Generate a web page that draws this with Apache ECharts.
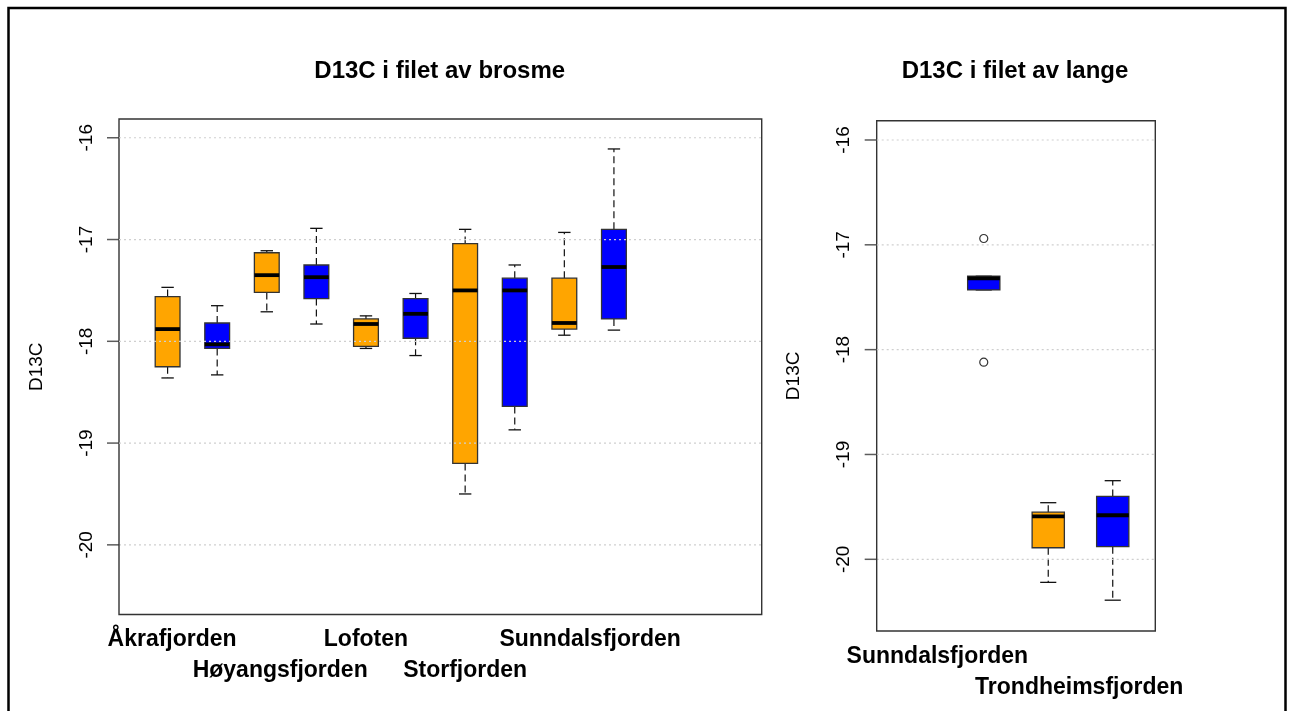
<!DOCTYPE html>
<html>
<head>
<meta charset="utf-8">
<script src="https://cdn.jsdelivr.net/npm/echarts@6.0.0/dist/echarts.min.js"></script>
<style>
  html, body { margin: 0; padding: 0; background: #fff; }
  #main { width: 1289px; height: 711px; }
</style>
</head>
<body>
<div id="main"></div>
<script>
// brosme (left): box slots, orange = first of each pair, blue = second
var brosmeLabels = ['Åkrafjorden', 'Høyangsfjorden', 'Lofoten', 'Storfjorden', 'Sunndalsfjorden'];
var brosmeLabelAt = [1.09, 3.27, 5.0, 7.0, 9.52];
var brosmeOrangeAt = [1, 3, 5, 7, 9];
var brosmeBlueAt = [2, 4, 6, 8, 10];
// [min, Q1, median, Q3, max]
var brosmeOrange = [
  [-18.36, -18.25, -17.88, -17.56, -17.47],
  [-17.71, -17.52, -17.35, -17.13, -17.11],
  [-18.07, -18.05, -17.83, -17.78, -17.75],
  [-19.50, -19.20, -17.50, -17.04, -16.90],
  [-17.94, -17.88, -17.82, -17.38, -16.93]
];
var brosmeBlue = [
  [-18.33, -18.07, -18.03, -17.82, -17.65],
  [-17.83, -17.58, -17.37, -17.25, -16.89],
  [-18.14, -17.97, -17.73, -17.58, -17.53],
  [-18.87, -18.64, -17.50, -17.38, -17.25],
  [-17.89, -17.78, -17.27, -16.90, -16.11]
];

// lange (right)
var langeLabels = ['Sunndalsfjorden', 'Trondheimsfjorden'];
var langeLabelAt = [1.28, 3.48];
var langeOrangeAt = [3];
var langeBlueAt = [2, 4];
var langeOrange = [
  [-20.22, -19.89, -19.59, -19.55, -19.46]
];
var langeBlue = [
  [-17.43, -17.43, -17.32, -17.30, -17.30],
  [-20.39, -19.88, -19.58, -19.40, -19.25]
];
var langeOutliers = [[2, -16.94], [2, -18.12]];

var yTicks = [-20, -19, -18, -17, -16];
// plot frame (R usr limits) of each panel: [xmin, xmax, ymin, ymax]
var brosmeFrame = [0.02, 12.98, -20.684, -15.816];
var langeFrame = [0.34, 4.66, -20.684, -15.816];

function rows(at, stats) {
  return stats.map(function (s, i) { return [at[i]].concat(s); });
}

function nearest(at, v) {
  var best = 0;
  for (var i = 1; i < at.length; i++) {
    if (Math.abs(at[i] - v) < Math.abs(at[best] - v)) best = i;
  }
  return best;
}

function boxItem(color) {
  return function (params, api) {
    var x = api.value(0);
    var lo = api.coord([x, api.value(1)]);
    var q1 = api.coord([x, api.value(2)]);
    var md = api.coord([x, api.value(3)]);
    var q3 = api.coord([x, api.value(4)]);
    var hi = api.coord([x, api.value(5)]);
    var bw = api.size([0.5, 0])[0];
    var cw = bw / 4;
    var cx = md[0];
    var dash = { stroke: '#111', lineWidth: 1.2, lineDash: [7, 4] };
    var solid = { stroke: '#111', lineWidth: 1.3 };
    return {
      type: 'group',
      children: [
        { type: 'line', shape: { x1: cx, y1: q3[1], x2: cx, y2: hi[1] }, style: dash },
        { type: 'line', shape: { x1: cx, y1: q1[1], x2: cx, y2: lo[1] }, style: dash },
        { type: 'line', shape: { x1: cx - cw, y1: hi[1], x2: cx + cw, y2: hi[1] }, style: solid },
        { type: 'line', shape: { x1: cx - cw, y1: lo[1], x2: cx + cw, y2: lo[1] }, style: solid },
        { type: 'rect', shape: { x: cx - bw / 2, y: q3[1], width: bw, height: q1[1] - q3[1] },
          style: { fill: color, stroke: '#333', lineWidth: 1.3 } },
        { type: 'line', shape: { x1: cx - bw / 2, y1: md[1], x2: cx + bw / 2, y2: md[1] },
          style: { stroke: '#000', lineWidth: 3.8 } }
      ]
    };
  };
}

function boxSeries(idx, at, stats, color) {
  return {
    type: 'custom', xAxisIndex: idx * 2, yAxisIndex: idx, z: 2,
    renderItem: boxItem(color),
    encode: { x: 0, y: [1, 2, 3, 4, 5] },
    data: rows(at, stats)
  };
}

// frame and dotted grid lines of one panel
function frameSeries(idx, f) {
  return {
    type: 'custom', xAxisIndex: idx * 2, yAxisIndex: idx, z: 5, silent: true,
    renderItem: function (params, api) {
      var v = api.value(0);
      var a = api.coord([f[0], v]);
      var b = api.coord([f[1], v]);
      var kids = [
        { type: 'line', shape: { x1: a[0], y1: a[1], x2: b[0], y2: b[1] },
          style: { stroke: '#cfcfcf', lineWidth: 1.2, lineDash: [2, 3] } }
      ];
      if (params.dataIndex === 0) {
        var tl = api.coord([f[0], f[3]]);
        var br = api.coord([f[1], f[2]]);
        kids.push({ type: 'rect', shape: { x: tl[0], y: tl[1], width: br[0] - tl[0], height: br[1] - tl[1] },
                    style: { fill: 'none', stroke: '#333', lineWidth: 1.4 } });
      }
      return { type: 'group', children: kids };
    },
    encode: { y: 0 },
    data: yTicks.map(function (v) { return [v]; })
  };
}

// y ticks: thin rect symbols shifted left of the frame edge
function tickSeries(idx, f) {
  return {
    type: 'scatter', xAxisIndex: idx * 2, yAxisIndex: idx, z: 10, silent: true, clip: false,
    symbol: 'rect', symbolSize: [12, 1.5], symbolOffset: [-6, 0],
    itemStyle: { color: '#333', borderWidth: 0 },
    emphasis: { disabled: true },
    data: yTicks.map(function (v) { return [f[0], v]; })
  };
}

// two stacked bottom axes per panel: row 1 = even labels, row 2 = odd labels
function xAxesFor(idx, min, max, labels, at) {
  return [0, 1].map(function (row) {
    var vals = at.filter(function (v, i) { return i % 2 === row; });
    return {
      type: 'value', gridIndex: idx, position: 'bottom', offset: 0, min: min, max: max,
      axisLine: { show: false }, axisTick: { show: false }, splitLine: { show: false },
      axisLabel: {
        customValues: vals, margin: row ? 39 : 8, lineHeight: 31,
        showMinLabel: true, showMaxLabel: true, hideOverlap: false,
        fontFamily: 'Liberation Sans', fontSize: 23, fontWeight: 'bold', color: '#000',
        formatter: function (v) { return labels[nearest(at, v)]; }
      }
    };
  });
}

function yAxisFor(idx, min, max) {
  return {
    type: 'value', gridIndex: idx, min: min, max: max,
    name: 'D13C', nameLocation: 'middle', nameGap: 61,
    nameTextStyle: { fontFamily: 'Liberation Sans', fontSize: 19, color: '#000' },
    axisLine: { show: false },
    axisTick: { show: false },
    splitLine: { show: false },
    axisLabel: {
      customValues: yTicks, rotate: 90, margin: 11,
      showMinLabel: true, showMaxLabel: true,
      fontFamily: 'Liberation Sans', fontSize: 19, color: '#000'
    }
  };
}

// grids reach 12px left of each frame (room for the ticks) and 2px past its other sides
var myChart = echarts.init(document.getElementById('main'));
myChart.setOption({
  animation: false,
  backgroundColor: '#fff',
  grid: [
    { left: 107, top: 117, width: 656.7, height: 499.5, show: false },
    { left: 864.7, top: 118.7, width: 292.6, height: 514.3, show: false }
  ],
  xAxis: xAxesFor(0, -0.222, 13.020, brosmeLabels, brosmeLabelAt)
    .concat(xAxesFor(1, 0.154, 4.691, langeLabels, langeLabelAt)),
  yAxis: [yAxisFor(0, -20.704, -15.796), yAxisFor(1, -20.703, -15.797)],
  graphic: [
    { id: 'outer', type: 'rect', shape: { x: 8.5, y: 8, width: 1277, height: 720 },
      style: { fill: 'none', stroke: '#000', lineWidth: 2.5 } },
    { id: 'title0', type: 'text', x: 439.7, y: 71.7,
      style: { text: 'D13C i filet av brosme', font: 'bold 24px "Liberation Sans"', fill: '#000',
               textAlign: 'center', textVerticalAlign: 'middle' } },
    { id: 'title1', type: 'text', x: 1015, y: 71.7,
      style: { text: 'D13C i filet av lange', font: 'bold 24px "Liberation Sans"', fill: '#000',
               textAlign: 'center', textVerticalAlign: 'middle' } }
  ],
  series: [
    boxSeries(0, brosmeOrangeAt, brosmeOrange, '#FFA500'),
    boxSeries(0, brosmeBlueAt, brosmeBlue, '#0000FF'),
    frameSeries(0, brosmeFrame),
    tickSeries(0, brosmeFrame),
    boxSeries(1, langeOrangeAt, langeOrange, '#FFA500'),
    boxSeries(1, langeBlueAt, langeBlue, '#0000FF'),
    frameSeries(1, langeFrame),
    tickSeries(1, langeFrame),
    {
      type: 'scatter', xAxisIndex: 2, yAxisIndex: 1, z: 6,
      symbol: 'circle', symbolSize: 8,
      itemStyle: { color: '#fff', borderColor: '#000', borderWidth: 1.2 },
      data: langeOutliers
    }
  ]
});
</script>
</body>
</html>
